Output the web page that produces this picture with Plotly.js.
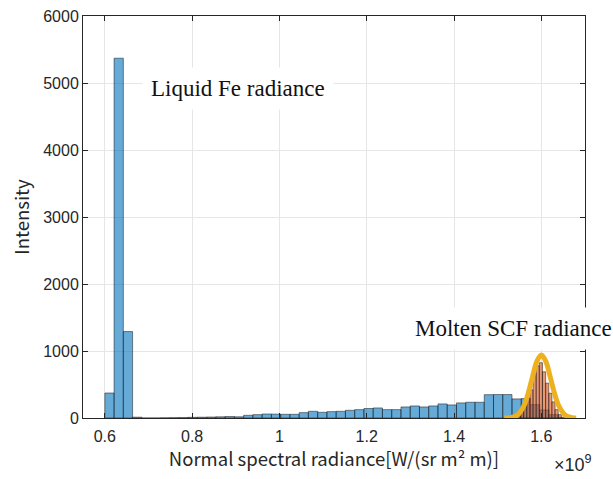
<!DOCTYPE html>
<html>
<head>
<meta charset="utf-8">
<script src="https://cdn.plot.ly/plotly-3.0.1.min.js"></script>
<style>html,body{margin:0;padding:0;background:#fff;}#chart{width:613px;height:479px;}</style>
</head>
<body>
<div id="chart"></div>
<script>
// Radiance values in units of 1e9 W/(sr m^2 m)
const liquidBinStart = 0.6;
const liquidBinWidth = 0.0212;
const liquidCounts = [373, 5370, 1290, 12, 0, 0, 2, 4, 6, 10,
  12, 15, 18, 22, 18, 40, 50, 60, 58, 55,
  55, 80, 100, 85, 95, 100, 115, 125, 142, 150,
  125, 125, 165, 180, 165, 180, 210, 195, 225, 235,
  235, 348, 350, 350, 285, 290, 200, 120, 50, 10];

const scfBinStart = 1.545;
const scfBinWidth = 0.0072;
const scfCounts = [20, 110, 220, 300, 420, 670, 780, 825, 690, 520, 370, 240, 125, 50];

const fitX = [1.515, 1.53, 1.545, 1.56, 1.57, 1.58, 1.59, 1.6, 1.61, 1.62, 1.63, 1.64, 1.655, 1.67, 1.68];
const fitY = [1, 6, 41, 180, 371, 622, 848, 940, 848, 622, 371, 180, 41, 6, 1];

const xTicks = [0.6, 0.8, 1, 1.2, 1.4, 1.6];
const xTickLabels = ['0.6', '0.8', '1', '1.2', '1.4', '1.6'];
const yTicks = [0, 1000, 2000, 3000, 4000, 5000, 6000];

const liquidX = liquidCounts.map((_, i) => liquidBinStart + (i + 0.5) * liquidBinWidth);
const scfX = scfCounts.map((_, i) => scfBinStart + (i + 0.5) * scfBinWidth);

const traces = [
  {
    type: 'bar', x: liquidX, y: liquidCounts, width: liquidBinWidth,
    marker: {color: 'rgba(0,114,189,0.6)', line: {color: 'rgba(20,20,20,0.85)', width: 0.6}},
    hoverinfo: 'x+y', showlegend: false
  },
  {
    type: 'bar', x: scfX, y: scfCounts, width: scfBinWidth,
    marker: {color: 'rgba(217,83,25,0.6)', line: {color: 'rgba(20,20,20,0.85)', width: 0.6}},
    hoverinfo: 'x+y', showlegend: false
  },
  {
    type: 'scatter', mode: 'lines', x: fitX, y: fitY,
    line: {color: '#EDB120', width: 5, shape: 'spline'},
    showlegend: false
  }
];

const axisCommon = {
  showline: true, linecolor: '#262626', linewidth: 1, mirror: 'ticks',
  ticks: 'inside', ticklen: 5, tickcolor: '#262626',
  showgrid: true, gridcolor: '#e6e6e6', gridwidth: 1, zeroline: false,
  tickfont: {family: 'Liberation Sans, Arial, sans-serif', size: 16, color: '#262626'}
};

const layout = {
  width: 613, height: 479,
  margin: {l: 83, r: 28, t: 16, b: 61},
  paper_bgcolor: '#ffffff', plot_bgcolor: '#ffffff',
  barmode: 'overlay',
  xaxis: Object.assign({}, axisCommon, {
    range: [0.55, 1.7], tickvals: xTicks, ticktext: xTickLabels, ticklabelstandoff: 4,
    title: {text: 'Normal spectral radiance[W/(sr m² m)]', standoff: 6,
      font: {family: 'Noto Sans CJK JP, sans-serif', size: 18.5, color: '#262626'}}
  }),
  yaxis: Object.assign({}, axisCommon, {
    range: [0, 6000], tickvals: yTicks,
    title: {text: 'Intensity', standoff: 8,
      font: {family: 'Noto Sans CJK JP, sans-serif', size: 18.5, color: '#262626'}}
  }),
  annotations: [
    {xref: 'paper', yref: 'paper', x: 0.935, y: -0.08, xanchor: 'left', yanchor: 'top',
      text: '×10<sup>9</sup>', showarrow: false,
      font: {family: 'Liberation Sans, Arial, sans-serif', size: 18, color: '#262626'}},
    {xref: 'x', yref: 'y', x: 0.904, y: 4925, xanchor: 'center', yanchor: 'middle',
      text: 'Liquid Fe radiance', showarrow: false, bgcolor: '#ffffff', borderpad: 8,
      font: {family: 'Liberation Serif, serif', size: 23, color: '#111111'}},
    {xref: 'x', yref: 'y', x: 1.536, y: 1343, xanchor: 'center', yanchor: 'middle',
      text: 'Molten SCF radiance', showarrow: false, bgcolor: '#ffffff', borderpad: 8,
      font: {family: 'Liberation Serif, serif', size: 23, color: '#111111'}}
  ]
};

Plotly.newPlot('chart', traces, layout, {displayModeBar: false, staticPlot: true});
</script>
</body>
</html>
